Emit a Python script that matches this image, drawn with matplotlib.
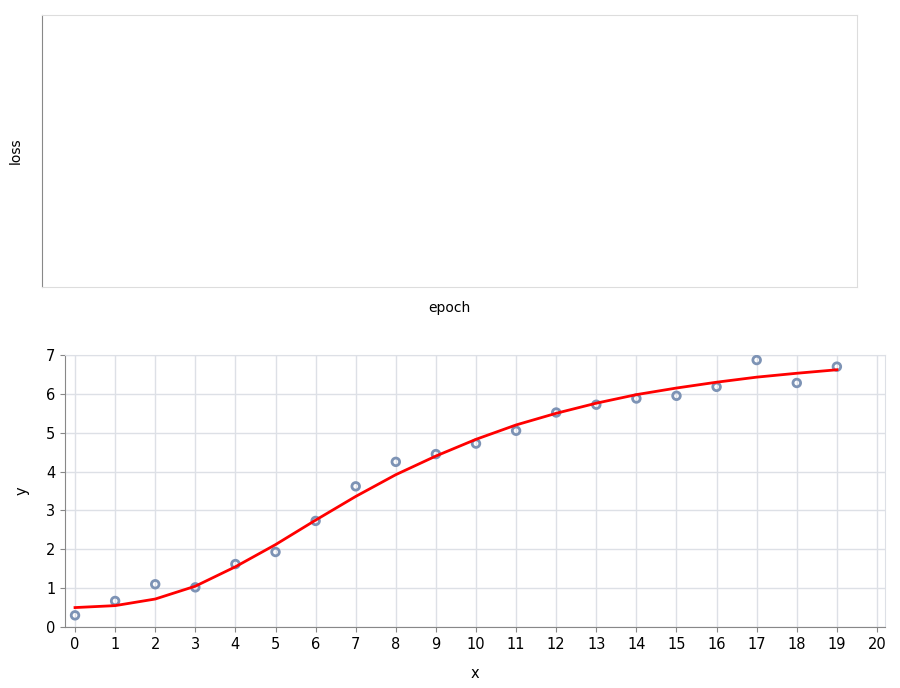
import matplotlib
matplotlib.use('Agg')
import matplotlib.pyplot as plt

x_vals = list(range(20))
y_points = [0.3, 0.67, 1.1, 1.02, 1.62, 1.93, 2.73, 3.62, 4.25, 4.45,
            4.72, 5.05, 5.52, 5.72, 5.88, 5.95, 6.18, 6.87, 6.28, 6.7]
y_fit = [0.5, 0.55, 0.72, 1.05, 1.55, 2.12, 2.75, 3.36, 3.92, 4.4,
         4.83, 5.2, 5.5, 5.76, 5.98, 6.15, 6.3, 6.43, 6.53, 6.62]

W, H = 900, 688
fig = plt.figure(figsize=(9, 6.88), dpi=100)

# top: empty loss panel
ax1 = fig.add_axes([42 / W, 1 - 287 / H, 815 / W, 272 / H])
ax1.set_xticks([])
ax1.set_yticks([])
for s in ax1.spines.values():
    s.set_color('#dddddd')
ax1.spines['left'].set_color('#888888')
ax1.set_xlabel('epoch', fontsize=10, labelpad=10)
ax1.set_ylabel('loss', fontsize=10, labelpad=14)

# bottom: scatter + fit
ax2 = fig.add_axes([65 / W, 1 - 627 / H, 820 / W, 272 / H])
ax2.scatter(x_vals, y_points, s=30, facecolors='none', edgecolors='#7d93b5',
            linewidths=2, zorder=3)
ax2.plot(x_vals, y_fit, color='#ff0000', lw=2, zorder=4)
ax2.set_xlim(-0.25, 20.2)
ax2.set_ylim(0, 7)
ax2.set_xticks(range(21))
ax2.set_yticks(range(8))
ax2.grid(True, color='#dde0e6', lw=1)
ax2.set_axisbelow(True)
for s in ax2.spines.values():
    s.set_color('#dde0e6')
ax2.spines['left'].set_color('#888888')
ax2.spines['bottom'].set_color('#888888')
ax2.tick_params(labelsize=10.5, color='#888888')
ax2.set_xlabel('x', fontsize=10.5, labelpad=10)
ax2.set_ylabel('y', fontsize=10.5, labelpad=12)

fig.savefig('out.png', dpi=100)
